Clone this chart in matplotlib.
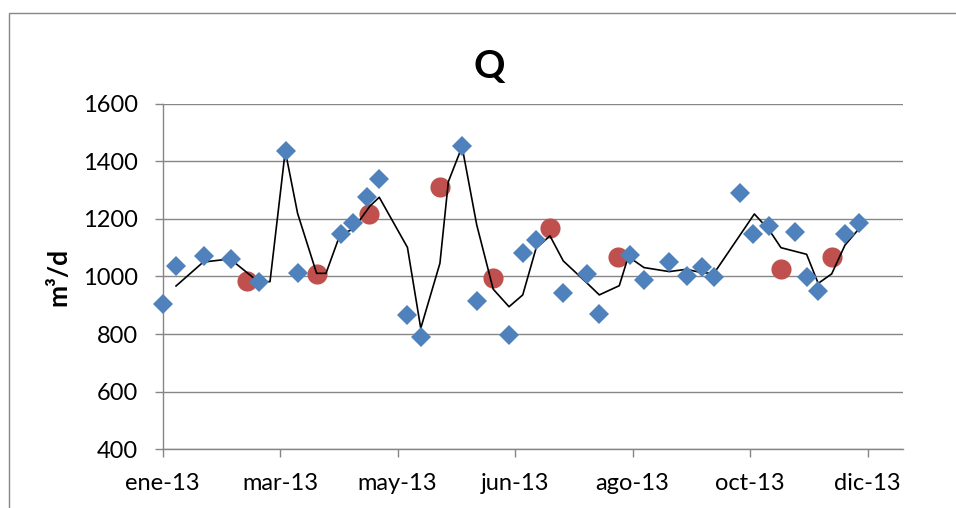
import matplotlib
matplotlib.use("Agg")
import matplotlib.pyplot as plt
from matplotlib.patches import Rectangle

plt.rcParams['font.family'] = ['Lato', 'DejaVu Sans']

# días desde 1-ene-2013
dias_muestras = [0, 7, 21, 35, 49, 63, 69, 91, 97, 104.5, 110.6, 124.6, 131.8,
                 152.9, 160.7, 176.9, 183.9, 190.7, 204.6, 216.9, 222.8, 238.7,
                 245.8, 258.7, 267.6, 275.3, 281.6, 294.8, 301.6, 309.8, 322.9,
                 328.9, 334.8, 348.5, 355.8]
q_muestras = [905, 1036, 1072, 1060, 982, 1436, 1011, 1148, 1187, 1277, 1337,
              865, 789, 1454, 916, 796, 1081, 1127, 944, 1008, 869, 1075,
              988, 1050, 1003, 1034, 999, 1289, 1146, 1176, 1156, 999, 951,
              1148, 1187]

dias_rojos = [42.9, 78.6, 105.5, 141.6, 168.8, 197.8, 232.7, 315.8, 341.7]
q_rojos = [985, 1008, 1217, 1312, 994, 1167, 1067, 1025, 1067]

dias_linea = [6.8, 20.7, 34.4, 48.8, 54.8, 62.6, 68.9, 78.6, 83.4, 90.5, 97.4,
              105.9, 110.6, 125, 131.8, 141.6, 145.9, 152.9, 160.4, 168.8,
              176.9, 183.9, 190.7, 197.8, 204.6, 216.9, 223, 233.2, 237.8,
              245.8, 258.7, 267.6, 275.3, 281.6, 302.2, 309.8, 315.8, 328.9,
              334.8, 341.7, 348.5, 355.8]
q_linea = [967, 1050, 1061, 982, 982, 1436, 1219, 1011, 1011, 1144, 1165,
           1245, 1275, 1101, 820, 1046, 1329, 1451, 1179, 956, 895, 936, 1098,
           1141, 1054, 976, 936, 968, 1069, 1031, 1017, 1025, 1013, 1011,
           1217, 1161, 1100, 1077, 976, 1009, 1109, 1167]

ticks_x = [0, 60, 120, 180, 240, 300, 360]
etiquetas_x = ['ene-13', 'mar-13', 'may-13', 'jun-13', 'ago-13', 'oct-13', 'dic-13']

gris = '#868686'

fig = plt.figure(figsize=(9.56, 5.08), dpi=100)
ax = fig.add_axes([0.1702, 0.1156, 0.7741, 0.6803])

# marco del gráfico (recortado por la imagen)
fig.patches.append(Rectangle((9.3 / 956, -0.2), 2, 0.975 + 0.2,
                             transform=fig.transFigure, fill=False,
                             edgecolor=gris, linewidth=1.0))

ax.plot(dias_linea, q_linea, color='black', linewidth=1.2, zorder=3)
ax.plot(dias_muestras, q_muestras, linestyle='none', marker='D',
        markersize=10, color='#4F81BD', markeredgewidth=0, zorder=4,
        clip_on=False)
ax.plot(dias_rojos, q_rojos, linestyle='none', marker='o',
        markersize=14.5, color='#C0504D', markeredgewidth=0, zorder=2)

ax.set_xlim(0, 378)
ax.set_ylim(400, 1600)
ax.set_yticks(range(400, 1601, 200))
ax.set_xticks(ticks_x)
ax.set_xticklabels(etiquetas_x)

ax.grid(True, axis='y', color=gris, linewidth=1.0)
ax.set_axisbelow(True)
for s in ['top', 'right']:
    ax.spines[s].set_visible(False)
for s in ['left', 'bottom']:
    ax.spines[s].set_color(gris)
    ax.spines[s].set_linewidth(1.0)
ax.tick_params(axis='both', colors=gris, labelcolor='black', labelsize=17,
               length=6, width=1.0)
ax.tick_params(axis='y', pad=12)
ax.tick_params(axis='x', pad=11)

ax.set_ylabel('m³/d', fontsize=19, fontweight='bold', labelpad=9)
ax.set_title('Q', fontsize=28, fontweight='bold', x=0.4416, pad=18.5)

fig.savefig('out.png', dpi=100)
